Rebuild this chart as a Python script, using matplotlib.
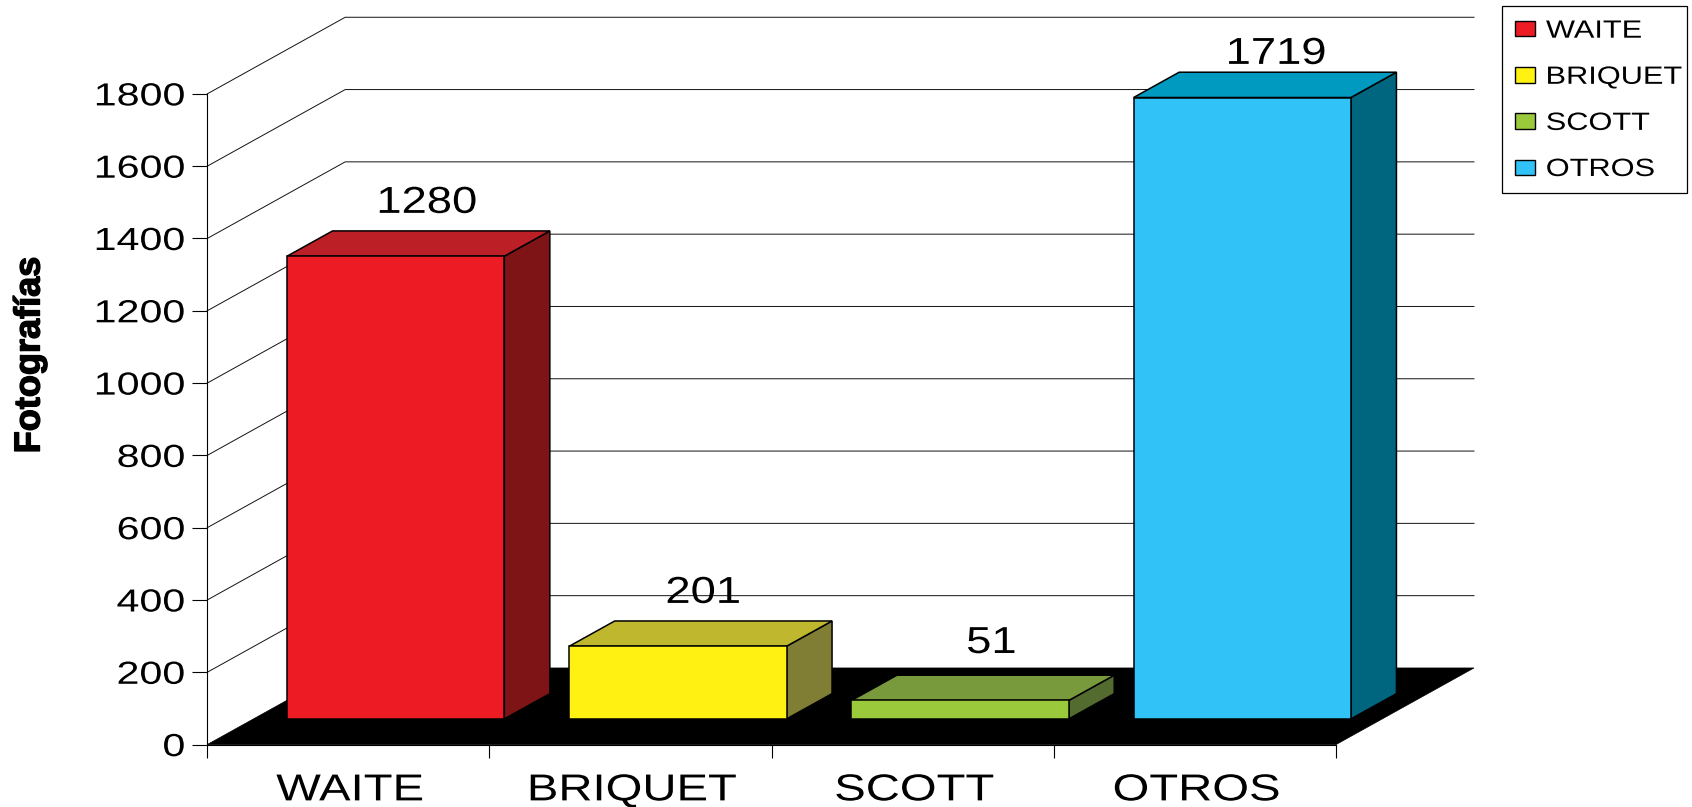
import matplotlib
matplotlib.use("Agg")
import matplotlib.pyplot as plt
from matplotlib.patches import Patch, Polygon
from matplotlib.patheffects import AbstractPathEffect, Normal, Stroke
from matplotlib.transforms import Affine2D

# Datos
categorias = ["WAITE", "BRIQUET", "SCOTT", "OTROS"]
valores = [1280, 201, 51, 1719]
marcas_y = [0, 200, 400, 600, 800, 1000, 1200, 1400, 1600, 1800]

# Colores de cada barra: frente, tapa, lateral
frente = ["#ED1C24", "#FFF212", "#9ACA3C", "#31C3F8"]
tapa = ["#BC2026", "#BFB72E", "#789A3C", "#0099BF"]
lateral = ["#7E1416", "#807E34", "#536B2F", "#006680"]

# Perspectiva del grafico en unidades de los ejes
prof_x = 0.489
prof_y = 212
ancho = 0.77
ini_prof = 0.335
fin_prof = 0.665

# Etiquetas: subida sobre la tapa (puntos) y desvio lateral (categorias)
subida = [13, 13, 16, 6]
desvio = [0.111, 0.09, 0.111, 0.12]

plt.rcParams["font.family"] = ["Liberation Sans", "DejaVu Sans"]
W, H = 1692, 807


# El texto original esta estirado en horizontal
class Estirar(AbstractPathEffect):
    def __init__(self, sx, ancla=0.5):
        super().__init__()
        self.sx = sx
        self.ancla = ancla

    def draw_path(self, renderer, gc, tpath, affine, rgbFace=None):
        ext = tpath.get_extents()
        x0 = ext.x0 + ext.width * self.ancla
        t = Affine2D().translate(-x0, 0).scale(self.sx, 1).translate(x0, 0) + affine
        renderer.draw_path(gc, tpath, t, rgbFace)


fig = plt.figure(figsize=(W / 100, H / 100), dpi=100)
ax = fig.add_axes([207.2 / W, (H - 744.6) / H, 1128.8 / W, 650.7 / H])
ax.set_xlim(0, 4)
ax.set_ylim(0, 1800)
ax.patch.set_visible(False)
ax.spines["top"].set_visible(False)
ax.spines["right"].set_visible(False)
for s in ax.spines.values():
    s.set_linewidth(0.8)

# Rejilla sobre las paredes
for v in marcas_y[1:]:
    ax.plot([0, prof_x, 4 + prof_x], [v, v + prof_y, v + prof_y], color="#111111",
            lw=0.7, clip_on=False, zorder=0.5)

# Suelo negro
ax.add_patch(Polygon([(0, 0), (4, 0), (4 + prof_x, prof_y), (prof_x, prof_y)],
                     fc="black", ec="black", lw=0.5, clip_on=False, zorder=0.8))

# Barras en 3D
for i, v in enumerate(valores):
    x0 = i + 0.5 - ancho / 2 + ini_prof * prof_x + 0.004
    x1 = x0 + ancho
    y0 = ini_prof * prof_y
    y1 = y0 + v
    dx = (fin_prof - ini_prof) * prof_x
    dy = (fin_prof - ini_prof) * prof_y
    estilo = dict(ec="black", lw=1.1, joinstyle="miter", clip_on=False, zorder=2 + i)
    ax.add_patch(Polygon([(x1, y0), (x1 + dx, y0 + dy), (x1 + dx, y1 + dy), (x1, y1)],
                         fc=lateral[i], **estilo))
    ax.add_patch(Polygon([(x0, y1), (x1, y1), (x1 + dx, y1 + dy), (x0 + dx, y1 + dy)],
                         fc=tapa[i], **estilo))
    ax.add_patch(Polygon([(x0, y0), (x1, y0), (x1, y1), (x0, y1)],
                         fc=frente[i], **estilo))
    et = ax.annotate(str(v), ((x0 + x1) / 2 + desvio[i], y1 + dy), xytext=(0, subida[i]),
                     textcoords="offset points", ha="center", va="baseline",
                     fontsize=27, color="black", annotation_clip=False, zorder=20)
    et.set_path_effects([Estirar(1.21)])

# Ejes
ax.set_yticks(marcas_y)
ax.tick_params(axis="y", length=11, width=0.8, pad=5, labelsize=23)
for t in ax.get_yticklabels():
    t.set_path_effects([Estirar(1.29, 1.0)])
ax.set_xticks(range(5))
ax.set_xticklabels([])
ax.tick_params(axis="x", which="major", length=9, width=0.8)
ax.set_xticks([i + 0.506 for i in range(4)], categorias, minor=True)
ax.tick_params(axis="x", which="minor", length=0, pad=20, labelsize=27)
for t in ax.get_xticklabels(minor=True):
    t.set_path_effects([Estirar(1.26)])

# Titulo del eje, con trazo mas grueso como en el original
fig.text(30 / W, 1 - 355 / H, "Fotografías", rotation=90, ha="center", va="center",
         fontsize=26, fontweight="bold",
         path_effects=[Stroke(linewidth=1.0, foreground="black"), Normal()])

# Leyenda
asas = [Patch(fc=c, ec="black", lw=1.0) for c in frente]
ley = ax.legend(asas, categorias, loc="upper left", mode="expand", fontsize=18,
                bbox_to_anchor=(1502 / W, 1 - 7 / H, 185 / W, 0.001),
                bbox_transform=fig.transFigure, borderaxespad=0, borderpad=0.5,
                handlelength=0.8, handleheight=0.56, handletextpad=0.46,
                labelspacing=0.884, fancybox=False, framealpha=1, edgecolor="black")
ley.get_frame().set_linewidth(0.9)
ley.set_zorder(30)
for t in ley.get_texts():
    t.set_path_effects([Estirar(1.23, 0.0)])

fig.savefig("out.png", dpi=100)
